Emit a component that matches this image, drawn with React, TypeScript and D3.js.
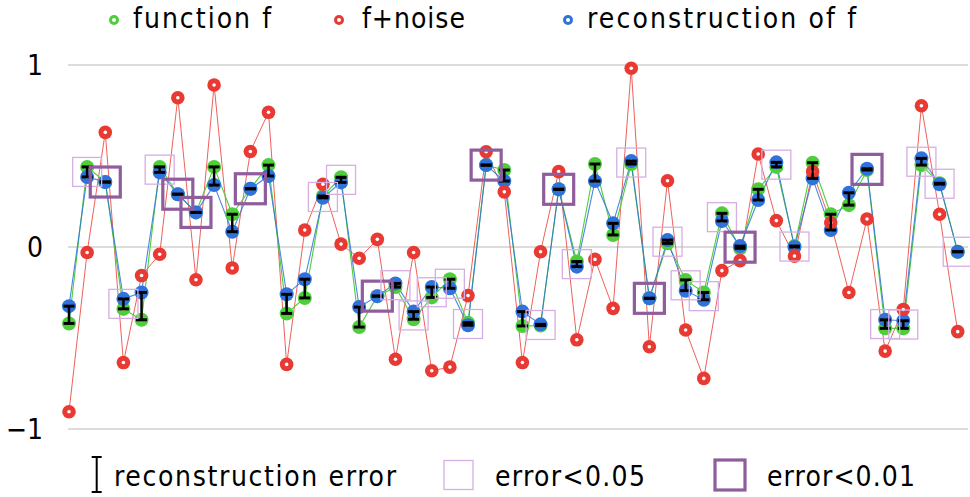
import React from 'react';
import * as d3 from 'd3';

// values, one entry per sample (50 samples)
const fValues = [
  -0.42, 0.44, 0.357, -0.34, -0.4, 0.44, 0.29, 0.19, 0.44, 0.18,
  0.32, 0.45, -0.365, -0.28, 0.28, 0.383, -0.44, -0.27, -0.22, -0.397,
  -0.277, -0.177, -0.416, 0.45, 0.423, -0.434, -0.432, 0.317, -0.08, 0.456,
  0.066, 0.456, -0.282, 0.02, -0.181, -0.25, 0.185, -0.007, 0.317, 0.44,
  0.005, 0.463, 0.18, 0.23, 0.423, -0.447, -0.447, 0.45, 0.35, -0.026,
];
const noisyValues = [
  -0.905, -0.03, 0.63, -0.635, -0.157, -0.04, 0.82, -0.18, 0.89, -0.115,
  0.525, 0.74, -0.645, 0.093, 0.345, 0.016, -0.062, 0.042, -0.617, -0.03,
  -0.68, -0.66, -0.267, 0.523, 0.303, -0.635, -0.026, 0.414, -0.51, -0.068,
  -0.337, 0.982, -0.548, 0.364, -0.456, -0.722, -0.13, -0.075, 0.511, 0.145,
  -0.05, 0.414, 0.133, -0.25, 0.154, -0.572, -0.343, 0.776, 0.18, -0.465,
];
const reconValues = [
  -0.325, 0.385, 0.357, -0.285, -0.25, 0.41, 0.29, 0.19, 0.34, 0.084,
  0.32, 0.39, -0.26, -0.177, 0.27, 0.355, -0.33, -0.27, -0.2, -0.355,
  -0.22, -0.227, -0.43, 0.45, 0.362, -0.355, -0.425, 0.317, -0.108, 0.362,
  0.13, 0.472, -0.282, 0.038, -0.24, -0.29, 0.143, 0.005, 0.258, 0.465,
  0.0, 0.377, 0.093, 0.298, 0.43, -0.4, -0.405, 0.487, 0.345, -0.026,
];
// 0 = no box, 1 = error<0.05, 2 = error<0.01
const accuracy = [
  0, 1, 2, 1, 0, 1, 2, 2, 0, 0,
  2, 0, 0, 0, 1, 1, 0, 2, 1, 1,
  1, 1, 1, 2, 0, 0, 1, 2, 1, 0,
  0, 1, 2, 1, 1, 1, 1, 2, 0, 1,
  1, 0, 0, 0, 2, 1, 1, 1, 1, 1,
];
const yTicks = [-1, 0, 1];
const tickLabels = ['\u22121', '0', '1'];

const GREEN = '#4fce3c';
const RED = '#e83a32';
const BLUE = '#2f72dc';
const LIGHT_BOX = '#d6aee2';
const DARK_BOX = '#8f5c9c';
const FONT = '"DejaVu Sans", sans-serif';
const condensed = { fontStretch: 'condensed' };

const App = () => {
  const width = 970;
  const height = 497;
  const idx = d3.range(fValues.length);

  const x = d3.scaleLinear().domain([0, fValues.length - 1]).range([69, 957.7]);
  const y = d3.scaleLinear().domain([-1, 1]).range([429, 65]);

  const line = (vals: number[]) =>
    d3.line<number>().x(i => x(i)).y(i => y(vals[i]))(idx) || '';

  const ring = (cx: number, cy: number, color: string, r = 6.5, hole = 2) => (
    <g>
      <circle cx={cx} cy={cy} r={r} fill={color} />
      <circle cx={cx} cy={cy} r={hole} fill="#fff" />
    </g>
  );

  return (
    <svg width={width} height={height} style={{ position: 'absolute', left: 0, top: 0, background: '#fff' }}
      fontFamily={FONT}>
      {/* grid */}
      {yTicks.map((t, k) => (
        <g key={t}>
          <line x1={68} x2={968} y1={y(t)} y2={y(t)} stroke="#dcdcdc" strokeWidth={2} />
          <text x={43} y={y(t) + 10} fontSize={28} textAnchor="end" style={condensed}>
            {tickLabels[k]}
          </text>
        </g>
      ))}

      {/* series lines */}
      <path d={line(noisyValues)} fill="none" stroke={RED} strokeWidth={1} opacity={0.8} />
      <path d={line(fValues)} fill="none" stroke={GREEN} strokeWidth={1.1} />
      <path d={line(reconValues)} fill="none" stroke={BLUE} strokeWidth={1.1} opacity={0.85} />

      {/* markers */}
      {idx.map(i => <g key={'g' + i}>{ring(x(i), y(fValues[i]), GREEN, 7, 1.5)}</g>)}
      {idx.map(i => <g key={'b' + i}>{ring(x(i), y(reconValues[i]), BLUE, 7, 1.5)}</g>)}
      {idx.map(i => <g key={'r' + i}>{ring(x(i), y(noisyValues[i]), RED, 6.8, 1.8)}</g>)}

      {/* reconstruction error bars */}
      {idx.map(i => {
        const cx = x(i);
        const y1 = y(fValues[i]);
        const y2 = y(reconValues[i]);
        return (
          <g key={'e' + i} stroke="#000">
            <line x1={cx} x2={cx} y1={y1} y2={y2} strokeWidth={2.5} />
            <line x1={cx - 5.5} x2={cx + 5.5} y1={y1} y2={y1} strokeWidth={3} />
            <line x1={cx - 5.5} x2={cx + 5.5} y1={y2} y2={y2} strokeWidth={3} />
          </g>
        );
      })}

      {/* accuracy boxes */}
      {idx.filter(i => accuracy[i] > 0).map(i => {
        const dark = accuracy[i] === 2;
        const s = dark ? 30 : 29;
        const cy = y((fValues[i] + reconValues[i]) / 2);
        return (
          <rect key={'q' + i} x={x(i) - s / 2} y={cy - s / 2} width={s} height={s} fill="none"
            stroke={dark ? DARK_BOX : LIGHT_BOX} strokeWidth={dark ? 3.2 : 1.3} />
        );
      })}

      {/* top legend */}
      <g fontSize={28} style={condensed}>
        {ring(114, 20, GREEN, 5, 2)}
        <text x={133} y={28} textLength={138} lengthAdjust="spacing">function f</text>
        {ring(339, 20, RED, 5, 2)}
        <text x={362} y={28} textLength={103} lengthAdjust="spacing">f+noise</text>
        {ring(568, 20, BLUE, 5, 2)}
        <text x={587} y={28} textLength={269} lengthAdjust="spacing">reconstruction of f</text>
      </g>

      {/* bottom legend */}
      <g stroke="#000" strokeWidth={2}>
        <line x1={96.7} x2={96.7} y1={457} y2={492} />
        <line x1={91.7} x2={101.7} y1={457} y2={457} />
        <line x1={91.7} x2={101.7} y1={492} y2={492} />
      </g>
      <rect x={444} y={460.5} width={29} height={29} fill="none" stroke={LIGHT_BOX} strokeWidth={1.3} />
      <rect x={715} y={460} width={30} height={30} fill="none" stroke={DARK_BOX} strokeWidth={3.2} />
      <g fontSize={28} style={condensed}>
        <text x={114} y={486} textLength={282} lengthAdjust="spacing">reconstruction error</text>
        <text x={495} y={486} textLength={150} lengthAdjust="spacing">error&lt;0.05</text>
        <text x={767} y={486} textLength={148} lengthAdjust="spacing">error&lt;0.01</text>
      </g>
    </svg>
  );
};

export default App;
